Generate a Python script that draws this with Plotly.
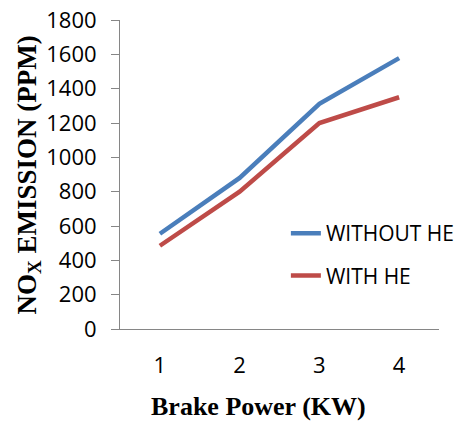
import plotly.graph_objects as go

categories = ["1", "2", "3", "4"]
without_he = [555, 880, 1312, 1578]
with_he = [485, 800, 1200, 1350]
y_ticks = [0, 200, 400, 600, 800, 1000, 1200, 1400, 1600, 1800]

fig = go.Figure()
fig.add_trace(go.Scatter(x=categories, y=without_he, mode="lines", name="WITHOUT HE",
                         line=dict(color="#4A7EBB", width=4.5), legendgroup="a"))
fig.add_trace(go.Scatter(x=categories, y=with_he, mode="lines", name="WITH HE",
                         line=dict(color="#BE4B48", width=4.5), legendgroup="b"))

tickfont = dict(family="Open Sans", size=22, color="#000000")
fig.update_layout(
    width=472, height=421,
    margin=dict(l=120, r=29, t=20, b=92),
    plot_bgcolor="white", paper_bgcolor="white",
    showlegend=True,
    legend=dict(x=0.52, y=0.375, xanchor="left", yanchor="top",
                font=dict(family="Open Sans", size=21, color="#000000"),
                traceorder="grouped", tracegroupgap=12, bgcolor="rgba(0,0,0,0)"),
    xaxis=dict(type="category", range=[-0.5, 3.5], showline=True, linecolor="#868686",
               linewidth=1, ticks="", showgrid=False, tickfont=tickfont,
               ticklabelstandoff=17, zeroline=False, automargin=False),
    yaxis=dict(range=[0, 1800], tickvals=y_ticks, showline=True, linecolor="#868686",
               linewidth=1, ticks="outside", ticklen=8, tickcolor="#868686",
               showgrid=False, tickfont=tickfont, ticklabelstandoff=10, zeroline=False,
               automargin=False),
    annotations=[
        dict(text="<b>NO<sub>X</sub> EMISSION (PPM)</b>", xref="paper", yref="paper",
             x=0, y=0.5, xanchor="center", yanchor="middle", xshift=-92, yshift=-1,
             textangle=-90, showarrow=False,
             font=dict(family="Liberation Serif", size=27, color="#000000")),
        dict(text="<b>Brake Power (KW)</b>", xref="paper", yref="paper",
             x=0.5, y=0, xanchor="center", yanchor="middle", yshift=-77, xshift=-21,
             showarrow=False, font=dict(family="Liberation Serif", size=26, color="#000000")),
    ],
)
fig.write_html("out.html")
